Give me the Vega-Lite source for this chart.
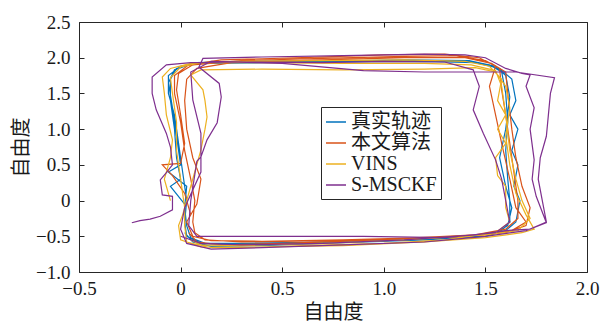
{
  "$schema": "https://vega.github.io/schema/vega-lite/v6.json",
  "width": 508,
  "height": 250,
  "autosize": {"type": "none"},
  "padding": {"left": 79, "top": 22, "right": 21, "bottom": 53},
  "background": "white",
  "config": {
    "view": {"stroke": "#262626", "strokeWidth": 1},
    "font": "Liberation Serif, Noto Sans CJK SC",
    "axis": {
      "grid": false,
      "domain": false,
      "labelFlush": false,
      "labelOverlap": false,
      "tickColor": "#262626",
      "tickSize": -5,
      "labelFont": "Liberation Serif",
      "labelFontSize": 19,
      "labelColor": "#1a1a1a",
      "titleFont": "Noto Sans CJK SC",
      "titleFontSize": 20,
      "titleFontWeight": "normal",
      "titleColor": "#1a1a1a"
    }
  },
  "data": {
    "values": [
      {"s":"真实轨迹","i":1,"x":0.02,"y":-0.05},{"s":"真实轨迹","i":2,"x":-0.05,"y":0.2},{"s":"真实轨迹","i":3,"x":0.0,"y":0.3},{"s":"真实轨迹","i":4,"x":-0.02,"y":0.6},{"s":"真实轨迹","i":5,"x":-0.03,"y":1.0},{"s":"真实轨迹","i":6,"x":-0.05,"y":1.4},{"s":"真实轨迹","i":7,"x":-0.05,"y":1.7},{"s":"真实轨迹","i":8,"x":-0.02,"y":1.85},{"s":"真实轨迹","i":9,"x":0.08,"y":1.93},{"s":"真实轨迹","i":10,"x":0.3,"y":1.95},{"s":"真实轨迹","i":11,"x":0.7,"y":1.96},{"s":"真实轨迹","i":12,"x":1.1,"y":1.96},{"s":"真实轨迹","i":13,"x":1.4,"y":1.95},{"s":"真实轨迹","i":14,"x":1.52,"y":1.9},{"s":"真实轨迹","i":15,"x":1.58,"y":1.8},{"s":"真实轨迹","i":16,"x":1.6,"y":1.5},{"s":"真实轨迹","i":17,"x":1.61,"y":1.1},{"s":"真实轨迹","i":18,"x":1.6,"y":0.7},{"s":"真实轨迹","i":19,"x":1.61,"y":0.3},{"s":"真实轨迹","i":20,"x":1.62,"y":0.0},{"s":"真实轨迹","i":21,"x":1.62,"y":-0.3},{"s":"真实轨迹","i":22,"x":1.58,"y":-0.42},{"s":"真实轨迹","i":23,"x":1.45,"y":-0.5},{"s":"真实轨迹","i":24,"x":1.1,"y":-0.55},{"s":"真实轨迹","i":25,"x":0.7,"y":-0.58},{"s":"真实轨迹","i":26,"x":0.3,"y":-0.6},{"s":"真实轨迹","i":27,"x":0.12,"y":-0.6},{"s":"真实轨迹","i":28,"x":0.05,"y":-0.52},{"s":"真实轨迹","i":29,"x":0.03,"y":-0.35},{"s":"真实轨迹","i":30,"x":0.02,"y":-0.1},{"s":"真实轨迹","i":31,"x":0.03,"y":0.2},{"s":"真实轨迹","i":32,"x":-0.06,"y":0.4},{"s":"真实轨迹","i":33,"x":0.0,"y":0.5},{"s":"真实轨迹","i":34,"x":-0.02,"y":0.9},{"s":"真实轨迹","i":35,"x":-0.04,"y":1.3},{"s":"真实轨迹","i":36,"x":-0.06,"y":1.65},{"s":"真实轨迹","i":37,"x":-0.03,"y":1.83},{"s":"真实轨迹","i":38,"x":0.06,"y":1.92},{"s":"真实轨迹","i":39,"x":0.3,"y":1.94},{"s":"真实轨迹","i":40,"x":0.7,"y":1.95},{"s":"真实轨迹","i":41,"x":1.1,"y":1.97},{"s":"真实轨迹","i":42,"x":1.42,"y":1.96},{"s":"真实轨迹","i":43,"x":1.55,"y":1.88},{"s":"真实轨迹","i":44,"x":1.6,"y":1.75},{"s":"真实轨迹","i":45,"x":1.62,"y":1.45},{"s":"真实轨迹","i":46,"x":1.6,"y":1.0},{"s":"真实轨迹","i":47,"x":1.57,"y":0.6},{"s":"真实轨迹","i":48,"x":1.6,"y":0.2},{"s":"真实轨迹","i":49,"x":1.63,"y":-0.1},{"s":"真实轨迹","i":50,"x":1.61,"y":-0.35},{"s":"真实轨迹","i":51,"x":1.55,"y":-0.45},{"s":"真实轨迹","i":52,"x":1.4,"y":-0.52},{"s":"真实轨迹","i":53,"x":1.0,"y":-0.57},{"s":"真实轨迹","i":54,"x":0.6,"y":-0.6},{"s":"真实轨迹","i":55,"x":0.25,"y":-0.62},{"s":"真实轨迹","i":56,"x":0.1,"y":-0.6},{"s":"真实轨迹","i":57,"x":0.03,"y":-0.5},{"s":"真实轨迹","i":58,"x":0.02,"y":-0.3},{"s":"真实轨迹","i":59,"x":0.03,"y":0.0},{"s":"真实轨迹","i":60,"x":0.01,"y":0.4},{"s":"真实轨迹","i":61,"x":-0.01,"y":0.8},{"s":"真实轨迹","i":62,"x":-0.03,"y":1.2},{"s":"真实轨迹","i":63,"x":-0.06,"y":1.5},{"s":"真实轨迹","i":64,"x":-0.06,"y":1.75},{"s":"真实轨迹","i":65,"x":0.0,"y":1.88},{"s":"真实轨迹","i":66,"x":0.1,"y":1.92},{"s":"真实轨迹","i":67,"x":0.4,"y":1.93},{"s":"真实轨迹","i":68,"x":0.8,"y":1.94},{"s":"真实轨迹","i":69,"x":1.2,"y":1.95},{"s":"真实轨迹","i":70,"x":1.45,"y":1.93},{"s":"真实轨迹","i":71,"x":1.57,"y":1.85},{"s":"真实轨迹","i":72,"x":1.63,"y":1.7},{"s":"真实轨迹","i":73,"x":1.65,"y":1.4},{"s":"真实轨迹","i":74,"x":1.62,"y":1.2},{"s":"真实轨迹","i":75,"x":1.66,"y":1.0},{"s":"真实轨迹","i":76,"x":1.63,"y":0.7},{"s":"真实轨迹","i":77,"x":1.66,"y":0.5},{"s":"真实轨迹","i":78,"x":1.64,"y":0.2},{"s":"真实轨迹","i":79,"x":1.67,"y":0.0},{"s":"真实轨迹","i":80,"x":1.65,"y":-0.3},{"s":"真实轨迹","i":81,"x":1.6,"y":-0.42},{"s":"真实轨迹","i":82,"x":1.5,"y":-0.5},{"s":"真实轨迹","i":83,"x":1.2,"y":-0.55},{"s":"真实轨迹","i":84,"x":0.8,"y":-0.59},{"s":"真实轨迹","i":85,"x":0.4,"y":-0.63},{"s":"真实轨迹","i":86,"x":0.15,"y":-0.64},{"s":"真实轨迹","i":87,"x":0.06,"y":-0.58},{"s":"真实轨迹","i":88,"x":0.02,"y":-0.45},

      {"s":"本文算法","i":1,"x":0.05,"y":-0.2},{"s":"本文算法","i":2,"x":0.02,"y":0.1},{"s":"本文算法","i":3,"x":-0.04,"y":0.35},{"s":"本文算法","i":4,"x":-0.09,"y":0.5},{"s":"本文算法","i":5,"x":0.0,"y":0.52},{"s":"本文算法","i":6,"x":0.02,"y":0.8},{"s":"本文算法","i":7,"x":0.0,"y":1.2},{"s":"本文算法","i":8,"x":-0.02,"y":1.55},{"s":"本文算法","i":9,"x":-0.01,"y":1.78},{"s":"本文算法","i":10,"x":0.06,"y":1.9},{"s":"本文算法","i":11,"x":0.3,"y":1.96},{"s":"本文算法","i":12,"x":0.7,"y":1.99},{"s":"本文算法","i":13,"x":1.1,"y":2.02},{"s":"本文算法","i":14,"x":1.35,"y":2.03},{"s":"本文算法","i":15,"x":1.5,"y":1.96},{"s":"本文算法","i":16,"x":1.57,"y":1.85},{"s":"本文算法","i":17,"x":1.58,"y":1.55},{"s":"本文算法","i":18,"x":1.6,"y":1.2},{"s":"本文算法","i":19,"x":1.62,"y":0.8},{"s":"本文算法","i":20,"x":1.64,"y":0.4},{"s":"本文算法","i":21,"x":1.66,"y":0.0},{"s":"本文算法","i":22,"x":1.66,"y":-0.25},{"s":"本文算法","i":23,"x":1.6,"y":-0.4},{"s":"本文算法","i":24,"x":1.45,"y":-0.48},{"s":"本文算法","i":25,"x":1.1,"y":-0.53},{"s":"本文算法","i":26,"x":0.7,"y":-0.56},{"s":"本文算法","i":27,"x":0.3,"y":-0.58},{"s":"本文算法","i":28,"x":0.12,"y":-0.55},{"s":"本文算法","i":29,"x":0.07,"y":-0.45},{"s":"本文算法","i":30,"x":0.06,"y":-0.3},{"s":"本文算法","i":31,"x":0.07,"y":0.0},{"s":"本文算法","i":32,"x":0.05,"y":0.3},{"s":"本文算法","i":33,"x":0.02,"y":0.7},{"s":"本文算法","i":34,"x":0.0,"y":1.1},{"s":"本文算法","i":35,"x":-0.03,"y":1.5},{"s":"本文算法","i":36,"x":-0.03,"y":1.75},{"s":"本文算法","i":37,"x":0.04,"y":1.9},{"s":"本文算法","i":38,"x":0.2,"y":1.97},{"s":"本文算法","i":39,"x":0.6,"y":2.0},{"s":"本文算法","i":40,"x":1.0,"y":2.04},{"s":"本文算法","i":41,"x":1.3,"y":2.05},{"s":"本文算法","i":42,"x":1.47,"y":2.0},{"s":"本文算法","i":43,"x":1.55,"y":1.88},{"s":"本文算法","i":44,"x":1.52,"y":1.6},{"s":"本文算法","i":45,"x":1.55,"y":1.2},{"s":"本文算法","i":46,"x":1.58,"y":0.8},{"s":"本文算法","i":47,"x":1.62,"y":0.3},{"s":"本文算法","i":48,"x":1.65,"y":-0.1},{"s":"本文算法","i":49,"x":1.7,"y":-0.3},{"s":"本文算法","i":50,"x":1.63,"y":-0.42},{"s":"本文算法","i":51,"x":1.5,"y":-0.48},{"s":"本文算法","i":52,"x":1.2,"y":-0.52},{"s":"本文算法","i":53,"x":0.8,"y":-0.55},{"s":"本文算法","i":54,"x":0.4,"y":-0.57},{"s":"本文算法","i":55,"x":0.15,"y":-0.56},{"s":"本文算法","i":56,"x":0.06,"y":-0.5},{"s":"本文算法","i":57,"x":0.03,"y":-0.3},{"s":"本文算法","i":58,"x":0.08,"y":-0.05},{"s":"本文算法","i":59,"x":0.1,"y":0.3},{"s":"本文算法","i":60,"x":0.06,"y":0.6},{"s":"本文算法","i":61,"x":0.03,"y":1.0},{"s":"本文算法","i":62,"x":0.02,"y":1.4},{"s":"本文算法","i":63,"x":0.03,"y":1.7},{"s":"本文算法","i":64,"x":0.08,"y":1.85},{"s":"本文算法","i":65,"x":0.25,"y":1.93},{"s":"本文算法","i":66,"x":0.7,"y":1.97},{"s":"本文算法","i":67,"x":1.1,"y":2.0},{"s":"本文算法","i":68,"x":1.4,"y":2.0},{"s":"本文算法","i":69,"x":1.53,"y":1.92},{"s":"本文算法","i":70,"x":1.6,"y":1.8},{"s":"本文算法","i":71,"x":1.61,"y":1.5},{"s":"本文算法","i":72,"x":1.63,"y":1.0},{"s":"本文算法","i":73,"x":1.65,"y":0.6},{"s":"本文算法","i":74,"x":1.68,"y":0.2},{"s":"本文算法","i":75,"x":1.72,"y":-0.1},{"s":"本文算法","i":76,"x":1.7,"y":-0.35},{"s":"本文算法","i":77,"x":1.6,"y":-0.45},{"s":"本文算法","i":78,"x":1.4,"y":-0.5},{"s":"本文算法","i":79,"x":1.0,"y":-0.55},{"s":"本文算法","i":80,"x":0.5,"y":-0.6},{"s":"本文算法","i":81,"x":0.2,"y":-0.62},{"s":"本文算法","i":82,"x":0.08,"y":-0.58},{"s":"本文算法","i":83,"x":0.04,"y":-0.45},

      {"s":"VINS","i":1,"x":-0.05,"y":0.0},{"s":"VINS","i":2,"x":-0.08,"y":0.3},{"s":"VINS","i":3,"x":-0.05,"y":0.6},{"s":"VINS","i":4,"x":-0.04,"y":0.85},{"s":"VINS","i":5,"x":-0.07,"y":1.2},{"s":"VINS","i":6,"x":-0.08,"y":1.5},{"s":"VINS","i":7,"x":-0.09,"y":1.73},{"s":"VINS","i":8,"x":-0.05,"y":1.85},{"s":"VINS","i":9,"x":0.05,"y":1.92},{"s":"VINS","i":10,"x":0.3,"y":1.95},{"s":"VINS","i":11,"x":0.7,"y":1.96},{"s":"VINS","i":12,"x":1.1,"y":1.97},{"s":"VINS","i":13,"x":1.4,"y":1.95},{"s":"VINS","i":14,"x":1.52,"y":1.88},{"s":"VINS","i":15,"x":1.58,"y":1.7},{"s":"VINS","i":16,"x":1.56,"y":1.4},{"s":"VINS","i":17,"x":1.6,"y":1.2},{"s":"VINS","i":18,"x":1.56,"y":1.0},{"s":"VINS","i":19,"x":1.6,"y":0.8},{"s":"VINS","i":20,"x":1.55,"y":0.6},{"s":"VINS","i":21,"x":1.56,"y":0.35},{"s":"VINS","i":22,"x":1.6,"y":0.2},{"s":"VINS","i":23,"x":1.6,"y":-0.1},{"s":"VINS","i":24,"x":1.62,"y":-0.3},{"s":"VINS","i":25,"x":1.55,"y":-0.45},{"s":"VINS","i":26,"x":1.3,"y":-0.55},{"s":"VINS","i":27,"x":1.0,"y":-0.6},{"s":"VINS","i":28,"x":0.6,"y":-0.63},{"s":"VINS","i":29,"x":0.3,"y":-0.66},{"s":"VINS","i":30,"x":0.1,"y":-0.65},{"s":"VINS","i":31,"x":0.0,"y":-0.55},{"s":"VINS","i":32,"x":-0.01,"y":-0.35},{"s":"VINS","i":33,"x":0.01,"y":-0.2},{"s":"VINS","i":34,"x":0.05,"y":0.2},{"s":"VINS","i":35,"x":0.1,"y":0.71},{"s":"VINS","i":36,"x":0.12,"y":1.0},{"s":"VINS","i":37,"x":0.13,"y":1.17},{"s":"VINS","i":38,"x":0.12,"y":1.4},{"s":"VINS","i":39,"x":0.11,"y":1.55},{"s":"VINS","i":40,"x":0.05,"y":1.76},{"s":"VINS","i":41,"x":0.1,"y":1.83},{"s":"VINS","i":42,"x":0.4,"y":1.84},{"s":"VINS","i":43,"x":0.8,"y":1.83},{"s":"VINS","i":44,"x":1.2,"y":1.84},{"s":"VINS","i":45,"x":1.45,"y":1.86},{"s":"VINS","i":46,"x":1.55,"y":1.8},{"s":"VINS","i":47,"x":1.6,"y":1.6},{"s":"VINS","i":48,"x":1.62,"y":1.3},{"s":"VINS","i":49,"x":1.6,"y":0.9},{"s":"VINS","i":50,"x":1.62,"y":0.5},{"s":"VINS","i":51,"x":1.65,"y":0.1},{"s":"VINS","i":52,"x":1.7,"y":-0.2},{"s":"VINS","i":53,"x":1.74,"y":-0.4},{"s":"VINS","i":54,"x":1.68,"y":-0.45},{"s":"VINS","i":55,"x":1.5,"y":-0.52},{"s":"VINS","i":56,"x":1.2,"y":-0.58},{"s":"VINS","i":57,"x":0.8,"y":-0.63},{"s":"VINS","i":58,"x":0.4,"y":-0.65},{"s":"VINS","i":59,"x":0.15,"y":-0.66},{"s":"VINS","i":60,"x":0.03,"y":-0.58},{"s":"VINS","i":61,"x":0.02,"y":-0.35},{"s":"VINS","i":62,"x":0.02,"y":-0.1},{"s":"VINS","i":63,"x":0.0,"y":0.3},{"s":"VINS","i":64,"x":-0.02,"y":0.7},{"s":"VINS","i":65,"x":-0.02,"y":1.1},{"s":"VINS","i":66,"x":-0.04,"y":1.5},{"s":"VINS","i":67,"x":-0.05,"y":1.72},{"s":"VINS","i":68,"x":0.0,"y":1.87},{"s":"VINS","i":69,"x":0.1,"y":1.93},{"s":"VINS","i":70,"x":0.4,"y":1.93},{"s":"VINS","i":71,"x":0.8,"y":1.92},{"s":"VINS","i":72,"x":1.2,"y":1.92},{"s":"VINS","i":73,"x":1.43,"y":1.9},{"s":"VINS","i":74,"x":1.55,"y":1.82},{"s":"VINS","i":75,"x":1.58,"y":1.6},{"s":"VINS","i":76,"x":1.6,"y":1.2},{"s":"VINS","i":77,"x":1.62,"y":0.7},{"s":"VINS","i":78,"x":1.65,"y":0.3},{"s":"VINS","i":79,"x":1.68,"y":0.0},{"s":"VINS","i":80,"x":1.72,"y":-0.25},{"s":"VINS","i":81,"x":1.66,"y":-0.42},{"s":"VINS","i":82,"x":1.5,"y":-0.48},{"s":"VINS","i":83,"x":1.1,"y":-0.55},{"s":"VINS","i":84,"x":0.7,"y":-0.6},{"s":"VINS","i":85,"x":0.3,"y":-0.63},{"s":"VINS","i":86,"x":0.1,"y":-0.62},{"s":"VINS","i":87,"x":0.05,"y":-0.55},

      {"s":"S-MSCKF","i":1,"x":-0.24,"y":-0.31},{"s":"S-MSCKF","i":2,"x":-0.2,"y":-0.28},{"s":"S-MSCKF","i":3,"x":-0.15,"y":-0.26},{"s":"S-MSCKF","i":4,"x":-0.1,"y":-0.22},{"s":"S-MSCKF","i":5,"x":-0.04,"y":-0.13},{"s":"S-MSCKF","i":6,"x":-0.04,"y":0.06},{"s":"S-MSCKF","i":7,"x":-0.09,"y":0.08},{"s":"S-MSCKF","i":8,"x":-0.1,"y":0.29},{"s":"S-MSCKF","i":9,"x":-0.07,"y":0.39},{"s":"S-MSCKF","i":10,"x":-0.04,"y":0.5},{"s":"S-MSCKF","i":11,"x":-0.05,"y":0.75},{"s":"S-MSCKF","i":12,"x":-0.07,"y":0.94},{"s":"S-MSCKF","i":13,"x":-0.12,"y":1.27},{"s":"S-MSCKF","i":14,"x":-0.14,"y":1.5},{"s":"S-MSCKF","i":15,"x":-0.14,"y":1.73},{"s":"S-MSCKF","i":16,"x":-0.07,"y":1.9},{"s":"S-MSCKF","i":17,"x":0.05,"y":1.93},{"s":"S-MSCKF","i":18,"x":0.3,"y":1.94},{"s":"S-MSCKF","i":19,"x":0.7,"y":1.93},{"s":"S-MSCKF","i":20,"x":1.0,"y":1.95},{"s":"S-MSCKF","i":21,"x":1.3,"y":1.94},{"s":"S-MSCKF","i":22,"x":1.44,"y":1.83},{"s":"S-MSCKF","i":23,"x":1.47,"y":1.6},{"s":"S-MSCKF","i":24,"x":1.44,"y":1.27},{"s":"S-MSCKF","i":25,"x":1.49,"y":0.94},{"s":"S-MSCKF","i":26,"x":1.55,"y":0.57},{"s":"S-MSCKF","i":27,"x":1.58,"y":0.3},{"s":"S-MSCKF","i":28,"x":1.6,"y":0.0},{"s":"S-MSCKF","i":29,"x":1.62,"y":-0.3},{"s":"S-MSCKF","i":30,"x":1.55,"y":-0.45},{"s":"S-MSCKF","i":31,"x":1.3,"y":-0.52},{"s":"S-MSCKF","i":32,"x":0.9,"y":-0.5},{"s":"S-MSCKF","i":33,"x":0.5,"y":-0.5},{"s":"S-MSCKF","i":34,"x":0.2,"y":-0.5},{"s":"S-MSCKF","i":35,"x":0.08,"y":-0.5},{"s":"S-MSCKF","i":36,"x":0.04,"y":-0.35},{"s":"S-MSCKF","i":37,"x":0.05,"y":0.0},{"s":"S-MSCKF","i":38,"x":0.08,"y":0.55},{"s":"S-MSCKF","i":39,"x":0.1,"y":0.61},{"s":"S-MSCKF","i":40,"x":0.13,"y":0.85},{"s":"S-MSCKF","i":41,"x":0.18,"y":1.09},{"s":"S-MSCKF","i":42,"x":0.2,"y":1.45},{"s":"S-MSCKF","i":43,"x":0.19,"y":1.64},{"s":"S-MSCKF","i":44,"x":0.09,"y":1.87},{"s":"S-MSCKF","i":45,"x":0.11,"y":1.99},{"s":"S-MSCKF","i":46,"x":0.4,"y":2.01},{"s":"S-MSCKF","i":47,"x":0.8,"y":2.03},{"s":"S-MSCKF","i":48,"x":1.2,"y":2.05},{"s":"S-MSCKF","i":49,"x":1.4,"y":2.04},{"s":"S-MSCKF","i":50,"x":1.5,"y":2.0},{"s":"S-MSCKF","i":51,"x":1.6,"y":1.85},{"s":"S-MSCKF","i":52,"x":1.68,"y":1.78},{"s":"S-MSCKF","i":53,"x":1.72,"y":1.76},{"s":"S-MSCKF","i":54,"x":1.7,"y":1.6},{"s":"S-MSCKF","i":55,"x":1.74,"y":1.3},{"s":"S-MSCKF","i":56,"x":1.72,"y":1.0},{"s":"S-MSCKF","i":57,"x":1.74,"y":0.57},{"s":"S-MSCKF","i":58,"x":1.73,"y":0.3},{"s":"S-MSCKF","i":59,"x":1.75,"y":0.06},{"s":"S-MSCKF","i":60,"x":1.8,"y":-0.31},{"s":"S-MSCKF","i":61,"x":1.7,"y":-0.42},{"s":"S-MSCKF","i":62,"x":1.5,"y":-0.5},{"s":"S-MSCKF","i":63,"x":1.2,"y":-0.58},{"s":"S-MSCKF","i":64,"x":0.8,"y":-0.62},{"s":"S-MSCKF","i":65,"x":0.4,"y":-0.66},{"s":"S-MSCKF","i":66,"x":0.15,"y":-0.68},{"s":"S-MSCKF","i":67,"x":0.03,"y":-0.6},{"s":"S-MSCKF","i":68,"x":0.0,"y":-0.4},{"s":"S-MSCKF","i":69,"x":0.02,"y":-0.1},{"s":"S-MSCKF","i":70,"x":0.1,"y":0.4},{"s":"S-MSCKF","i":71,"x":0.1,"y":0.68},{"s":"S-MSCKF","i":72,"x":0.1,"y":0.94},{"s":"S-MSCKF","i":73,"x":0.06,"y":1.41},{"s":"S-MSCKF","i":74,"x":0.05,"y":1.8},{"s":"S-MSCKF","i":75,"x":0.15,"y":1.95},{"s":"S-MSCKF","i":76,"x":0.5,"y":1.92},{"s":"S-MSCKF","i":77,"x":0.9,"y":1.82},{"s":"S-MSCKF","i":78,"x":1.2,"y":1.8},{"s":"S-MSCKF","i":79,"x":1.5,"y":1.8},{"s":"S-MSCKF","i":80,"x":1.65,"y":1.8},{"s":"S-MSCKF","i":81,"x":1.84,"y":1.72},{"s":"S-MSCKF","i":82,"x":1.82,"y":1.5},{"s":"S-MSCKF","i":83,"x":1.81,"y":1.2},{"s":"S-MSCKF","i":84,"x":1.8,"y":0.9},{"s":"S-MSCKF","i":85,"x":1.77,"y":0.6},{"s":"S-MSCKF","i":86,"x":1.76,"y":0.3},{"s":"S-MSCKF","i":87,"x":1.78,"y":0.0},{"s":"S-MSCKF","i":88,"x":1.8,"y":-0.3},{"s":"S-MSCKF","i":89,"x":1.72,"y":-0.4},{"s":"S-MSCKF","i":90,"x":1.6,"y":-0.42},{"s":"S-MSCKF","i":91,"x":1.45,"y":-0.48},{"s":"S-MSCKF","i":92,"x":1.1,"y":-0.55},{"s":"S-MSCKF","i":93,"x":0.7,"y":-0.6},{"s":"S-MSCKF","i":94,"x":0.3,"y":-0.62},{"s":"S-MSCKF","i":95,"x":0.1,"y":-0.6},{"s":"S-MSCKF","i":96,"x":0.0,"y":-0.5}
    ]
  },
  "layer": [
    {
      "mark": {"type": "line", "strokeWidth": 1.2},
      "encoding": {
        "x": {"field": "x", "type": "quantitative", "scale": {"domain": [-0.5, 2], "nice": false, "zero": false},
          "axis": {"orient": "bottom", "values": [-0.5, 0, 0.5, 1, 1.5, 2], "labelExpr": "datum.value == 0 ? '0' : format(datum.value, '.1f')", "title": "自由度", "labelPadding": 12, "titlePadding": 4}},
        "y": {"field": "y", "type": "quantitative", "scale": {"domain": [-1, 2.5], "nice": false, "zero": false},
          "axis": {"orient": "left", "values": [-1, -0.5, 0, 0.5, 1, 1.5, 2, 2.5], "labelExpr": "datum.value == 0 ? '0' : format(datum.value, '.1f')", "title": "自由度", "labelPadding": 14, "titlePadding": 4}},
        "color": {"field": "s", "type": "nominal",
          "scale": {"domain": ["真实轨迹", "本文算法", "VINS", "S-MSCKF"], "range": ["#0072BD", "#D95319", "#EDB120", "#7E2F8E"]},
          "legend": {"orient": "none", "legendX": 242, "legendY": 85, "title": null, "strokeColor": "#262626", "fillColor": "white", "padding": 4,
            "symbolType": "stroke", "symbolSize": 400, "symbolStrokeWidth": 1.5, "labelFontSize": 20, "labelFont": "Liberation Serif, Noto Sans CJK SC", "labelColor": "#1a1a1a", "labelOffset": 4, "rowPadding": 0, "symbolOffset": 0}},
        "order": {"field": "i", "type": "quantitative"}
      }
    },
    {
      "mark": {"type": "point", "opacity": 0},
      "encoding": {
        "x": {"field": "x", "type": "quantitative", "axis": {"orient": "top", "values": [-0.5, 0, 0.5, 1, 1.5, 2], "labels": false, "title": null}},
        "y": {"field": "y", "type": "quantitative", "axis": {"orient": "right", "values": [-1, -0.5, 0, 0.5, 1, 1.5, 2, 2.5], "labels": false, "title": null}}
      }
    }
  ],
  "resolve": {"axis": {"x": "independent", "y": "independent"}}
}
